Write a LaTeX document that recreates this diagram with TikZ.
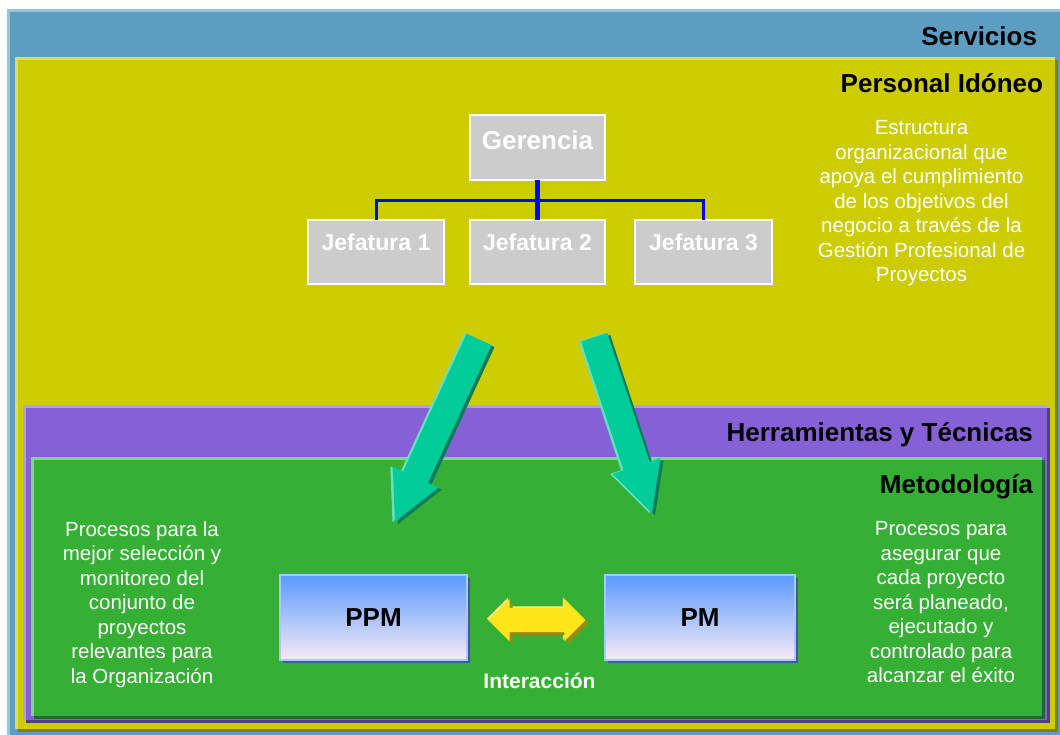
\documentclass[tikz,border=0pt]{standalone}
\usepackage{fontspec}
\setmainfont{Liberation Sans}
\usetikzlibrary{shapes.arrows,shadows}

\definecolor{servblue}{HTML}{5B9EC2}
\definecolor{servlight}{HTML}{98C4DA}
\definecolor{persyellow}{HTML}{CCCC00}
\definecolor{perslight}{HTML}{DCDC5C}
\definecolor{persdark}{HTML}{7F7F00}
\definecolor{herrpurple}{HTML}{8660D5}
\definecolor{herrlight}{HTML}{B59CEA}
\definecolor{herrdark}{HTML}{4F3A8E}
\definecolor{metogreen}{HTML}{35B035}
\definecolor{metolight}{HTML}{7ED490}
\definecolor{metodark}{HTML}{1F6A2A}
\definecolor{orggray}{HTML}{CCCCCC}
\definecolor{orgblue}{HTML}{0000FF}
\definecolor{ppmtop}{HTML}{5A9AFF}
\definecolor{ppmmid}{HTML}{88BEFF}
\definecolor{ppmbottom}{HTML}{F8EAF5}
\definecolor{ppmedge}{HTML}{A8C8FF}
\definecolor{ppmshadow}{HTML}{3A5CA0}
\definecolor{arrowteal}{HTML}{00CC99}
\definecolor{teallight}{HTML}{66E0C0}
\definecolor{tealdark}{HTML}{007A5C}
\definecolor{arrowyellow}{HTML}{FFE619}
\definecolor{yellowlight}{HTML}{FFF080}
\definecolor{yellowdark}{HTML}{9A8A10}

\begin{document}
\begin{tikzpicture}[x=1pt, y=-1pt,
    every node/.style = {inner sep=0pt, outer sep=0pt},
         title/.style = {anchor=base east, font=\fontsize{26}{30}\selectfont\bfseries},
          desc/.style = {anchor=north, align=center, text=white,
                         font=\fontsize{20.5}{24.5}\selectfont},
        orgbox/.style = {draw=white, line width=1.5pt, fill=orggray, text=white},
       orgline/.style = {draw=orgblue, line width=3pt},
       procbox/.style = {minimum height=85pt, draw=ppmedge, line width=1.5pt,
                         top color=ppmtop, middle color=ppmmid, bottom color=ppmbottom,
                         drop shadow={shadow xshift=3pt, shadow yshift=-3pt,
                                      fill=ppmshadow, opacity=1},
                         font=\fontsize{26}{30}\selectfont\bfseries},
      bigarrow/.style = {single arrow, anchor=tip, fill=arrowteal,
                         inner ysep=13.5pt, single arrow head extend=11.5pt,
                         single arrow tip angle=54,
                         general shadow={shadow xshift=-2.5pt, fill=teallight},
                         general shadow={shadow xshift=3pt, shadow yshift=-2pt, fill=tealdark}},
      dblarrow/.style = {double arrow, fill=arrowyellow, minimum height=97pt,
                         inner ysep=12pt, double arrow head extend=9pt,
                         double arrow tip angle=90,
                         general shadow={shadow xshift=-1.5pt, shadow yshift=1.5pt, fill=yellowlight},
                         general shadow={shadow xshift=3pt, shadow yshift=-3pt, fill=yellowdark}}]%
  \useasboundingbox (0,0) rectangle (1060,734);
  \clip (0,0) rectangle (1060,734);
  \fill[white] (0,0) rectangle (1060,734);
  % Servicios
  \fill[servblue] (7,9) rectangle (1066,740);
  \draw[servlight, line width=3pt] (8.5,740) |- (1066,10.5);
  % Personal Idoneo
  \fill[persdark] (18,60) rectangle (1058,732);
  \fill[persyellow] (15,57) rectangle (1055,729);
  \draw[perslight, line width=3pt] (16.5,729) |- (1055,58.5);
  % Herramientas y Tecnicas
  \fill[herrdark] (26,408) rectangle (1050,723);
  \fill[herrpurple] (23,405) rectangle (1047,720);
  \draw[herrlight, line width=3pt] (24.5,720) |- (1047,406.5);
  % Metodologia
  \fill[metodark] (34,460) rectangle (1045,719);
  \fill[metogreen] (31,457) rectangle (1042,716);
  \draw[metolight, line width=3pt] (32.5,716) |- (1042,458.5);
  % titles
  \node[title] (serv) at (1037,45)  {Servicios};
  \node[title] (pers) at (1043,92)  {Personal Idóneo};
  \node[title] (herr) at (1033,441) {Herramientas y Técnicas};
  \node[title] (meto) at (1033,493) {Metodología};
  % organigrama
  \node[orgbox, minimum width=135pt, text height=34pt, text depth=31pt,
        font=\fontsize{26}{30}\selectfont\bfseries] (ger) at (537.5,147.5) {Gerencia};
  \node[orgbox, minimum width=136pt, text height=30pt, text depth=34pt,
        font=\fontsize{23}{27}\selectfont\bfseries] (jef1) at (376,252) {Jefatura 1};
  \node[orgbox, minimum width=135pt, text height=30pt, text depth=34pt,
        font=\fontsize{23}{27}\selectfont\bfseries] (jef2) at (537.5,252) {Jefatura 2};
  \node[orgbox, minimum width=137pt, text height=30pt, text depth=34pt,
        font=\fontsize{23}{27}\selectfont\bfseries] (jef3) at (703.5,252) {Jefatura 3};
  \draw[orgline] (jef1.north) -- ++(0,-20) -| (jef3.north);
  \draw[orgline, line width=5pt] (ger.south) -- (jef2.north);
  \node[desc] (persdesc) at (921.5,120.5) {Estructura\\ organizacional que\\
    apoya el cumplimiento\\ de los objetivos del\\ negocio a través de la\\
    Gestión Profesional de\\ Proyectos};
  % flechas hacia la metodologia
  \node[bigarrow, minimum height=201pt, rotate=245.3] (down1) at (395,522) {};
  \node[bigarrow, minimum height=185pt, rotate=288.2] (down2) at (652,513) {};
  % PPM y PM
  \node[procbox, minimum width=187pt] (ppm) at (373.5,617.5) {PPM};
  \node[procbox, minimum width=190pt] (pm)  at (700,617.5)   {PM};
  \node[dblarrow] (inter) at (537,620) {};
  \node[anchor=base, text=white, font=\fontsize{21}{25}\selectfont\bfseries]
       (interlabel) at (539.5,688) {Interacción};
  \node[desc] (ppmdesc) at (142,521.5) {Procesos para la\\ mejor selección y\\
    monitoreo del\\ conjunto de\\ proyectos\\ relevantes para\\ la Organización};
  \node[desc] (pmdesc) at (941,521.5) {Procesos para\\ asegurar que\\
    cada proyecto\\ será planeado,\\ ejecutado y\\ controlado para\\ alcanzar el éxito};
\end{tikzpicture}
\end{document}
